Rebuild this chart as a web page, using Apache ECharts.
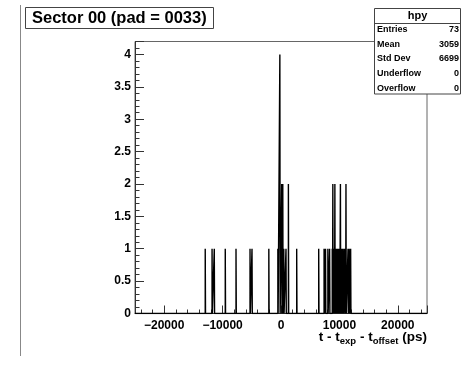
<!DOCTYPE html>
<html>
<head>
<meta charset="utf-8">
<script src="https://cdn.jsdelivr.net/npm/echarts@6/dist/echarts.min.js"></script>
<style>
  html, body { margin: 0; padding: 0; background: #fff; }
  #chart { width: 462px; height: 371px; }
</style>
</head>
<body>
<div id="chart"></div>
<script>
// non-empty bins of hpy (bin centre in ps, entries)
const binCenters = [
  -12950, -11780, -11400, -9520, -7680, -5280, -4940, -2060,
  -515, -170, 150, 330, 500, 880, 1290, 2710,
  6480, 7400, 7650, 8050, 8350,
  8800, 8900, 9050, 9150, 9250, 9400, 9550, 9650, 9800, 9950, 10050, 10200, 10300,
  10400, 10500, 10650, 10900, 11050, 11150, 11500, 11700, 11950
];
const binCounts = [
  1, 1, 1, 1, 1, 1, 1, 1,
  1, 4, 2, 2, 1, 1, 2, 1,
  1, 1, 1, 1, 1,
  1, 2, 1, 1, 2, 1, 1, 1, 1, 1, 1, 2, 1,
  1, 1, 1, 1, 1, 2, 1, 1, 1
];
const binWidth = 50;
const xRange = [-25000, 25000];
const yRange = [0, 4.2];

const statNames = ['Entries', 'Mean', 'Std Dev', 'Underflow', 'Overflow'];
const statValues = ['73', '3059', '6699', '0', '0'];

const FONT = '"Liberation Sans", Arial, Helvetica, sans-serif';
const NARROW = '"Liberation Sans Narrow", "Liberation Sans", Arial, sans-serif';

// ROOT style outline: step polyline along the whole axis
const histPoints = [[xRange[0], 0]];
binCenters.forEach((c, i) => {
  const lo = c - binWidth / 2, hi = c + binWidth / 2;
  histPoints.push([lo, 0], [lo, binCounts[i]], [hi, binCounts[i]], [hi, 0]);
});
histPoints.push([xRange[1], 0]);

const chart = echarts.init(document.getElementById('chart'), null, {renderer: 'canvas'});

const statsBox = [];
statsBox.push({
  type: 'rect', z: 100,
  shape: {x: 374.5, y: 8.5, width: 86, height: 85.5},
  style: {fill: '#fff', stroke: '#444', lineWidth: 1}
});
statsBox.push({
  type: 'line', z: 101,
  shape: {x1: 374.5, y1: 23.5, x2: 460.5, y2: 23.5},
  style: {stroke: '#444', lineWidth: 1}
});
statsBox.push({
  type: 'text', z: 101, x: 417.5, y: 16,
  style: {text: 'hpy', font: 'bold 11px ' + FONT, fill: '#000', align: 'center', verticalAlign: 'middle'}
});
statNames.forEach((name, i) => {
  const y = 29.8 + i * 14.6;
  statsBox.push({
    type: 'text', z: 101, x: 377, y: y,
    style: {text: name, font: 'bold 9px ' + NARROW, fill: '#000', align: 'left', verticalAlign: 'middle'}
  });
  statsBox.push({
    type: 'text', z: 101, x: 459, y: y,
    style: {text: statValues[i], font: 'bold 9px ' + NARROW, fill: '#000', align: 'right', verticalAlign: 'middle'}
  });
});

const minus = v => String(v).replace('-', '\u2212');

const option = {
  animation: false,
  backgroundColor: '#fff',
  title: {
    text: 'Sector 00 (pad = 0033)',
    left: 25, top: 7,
    padding: [3, 7, 2, 7],
    borderColor: '#444', borderWidth: 1,
    backgroundColor: '#fff',
    textStyle: {fontFamily: FONT, fontWeight: 'bold', fontSize: 16.5, color: '#000', lineHeight: 17}
  },
  grid: {
    left: 135, top: 41.5, width: 292, height: 272,
    show: true, borderColor: '#666', borderWidth: 1
  },
  xAxis: {
    type: 'value', min: xRange[0], max: xRange[1], splitNumber: 5,
    axisLine: {onZero: false, lineStyle: {color: '#333', width: 1}},
    axisTick: {inside: true, length: 8, lineStyle: {color: '#333'}},
    minorTick: {show: true, splitNumber: 5, length: 4, lineStyle: {color: '#333'}},
    splitLine: {show: false},
    axisLabel: {
      margin: 6, showMinLabel: false, showMaxLabel: false,
      fontFamily: FONT, fontWeight: 'bold', fontSize: 12, color: '#000',
      formatter: minus
    }
  },
  yAxis: {
    type: 'value', min: yRange[0], max: yRange[1], interval: 0.5,
    axisLine: {show: true, onZero: false, lineStyle: {color: '#333', width: 1}},
    axisTick: {show: true, inside: true, length: 9, lineStyle: {color: '#333'}},
    minorTick: {show: true, splitNumber: 5, length: 4.5, lineStyle: {color: '#333'}},
    splitLine: {show: false},
    axisLabel: {
      margin: 4, showMaxLabel: false,
      fontFamily: FONT, fontWeight: 'bold', fontSize: 12, color: '#000'
    }
  },
  graphic: [
    {
      type: 'line', z: 1,
      shape: {x1: 20.5, y1: 5, x2: 20.5, y2: 356},
      style: {stroke: '#888', lineWidth: 1}
    },
    {
      type: 'text', z: 50, x: 427, y: 328,
      style: {
        text: '{m|t - t}{s|exp}{m| - t}{s|offset}{m| (ps)}',
        align: 'right', verticalAlign: 'top',
        rich: {
          m: {font: 'bold 13.5px ' + FONT, fill: '#000', lineHeight: 18, verticalAlign: 'middle'},
          s: {font: 'bold 9.5px ' + FONT, fill: '#000', lineHeight: 9, verticalAlign: 'bottom'}
        }
      }
    }
  ].concat(statsBox),
  series: [{
    type: 'line',
    data: histPoints,
    showSymbol: false,
    symbol: 'none',
    lineStyle: {color: '#000', width: 1.4},
    z: 5
  }]
};

chart.setOption(option);
</script>
</body>
</html>
